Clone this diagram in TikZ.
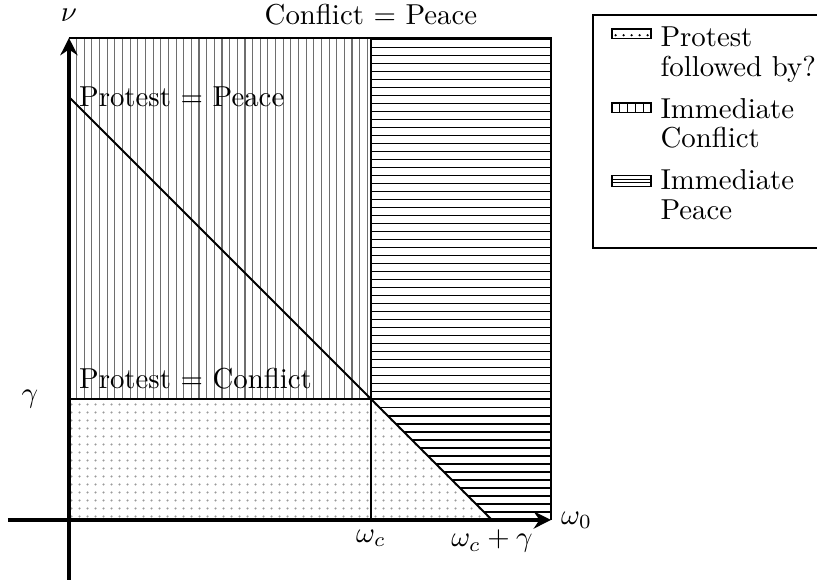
\documentclass[tikz,border=0pt]{standalone}
\usepackage{xcolor}
\usepackage{tikz}
\usetikzlibrary{patterns.meta,arrows.meta}
\definecolor{RegDots}{HTML}{9A9A9A}
\definecolor{RegVert}{HTML}{6E6E6E}
\definecolor{RegHorz}{HTML}{000000}
\definecolor{RegLine}{HTML}{000000}
\tikzset{
  dotfill/.style={pattern={Dots[distance=2.776pt,radius=0.45pt]},pattern color=#1},
  vline/.style={RegVert,line width=.4pt},
  hline/.style={RegHorz,line width=.4pt},
  border/.style={RegLine,line width=.65pt},
  axis/.style={RegLine,line width=1.2pt,-{Stealth[length=6pt,width=6pt,inset=2pt]}},
  legbox/.style={draw=RegLine,line width=.5pt},
  legtext/.style={anchor=base west,inner sep=0pt}
}

\begin{document}
\begin{tikzpicture}[x=1cm,y=1cm]
\path[use as bounding box] (-0.841,-0.720) rectangle (9.122,6.341);
\coordinate (O) at (0,0);
\coordinate (xstart) at (-0.744,0);
\coordinate (ystart) at (0,-0.80);
\coordinate (wc) at (3.683,0);
\coordinate (wcg) at (5.159,0);
\coordinate (xend) at (5.878,0);
\coordinate (g) at (0,1.476);
\coordinate (cg) at (3.683,1.476);
\coordinate (mg) at (5.878,1.476);
\coordinate (ppe) at (0,5.159);
\coordinate (top) at (0,5.878);
\coordinate (ctop) at (3.683,5.878);
\coordinate (corner) at (5.878,5.878);
\fill[dotfill=RegDots] (O) -- (wcg) -- (cg) -- (g) -- cycle;
\begin{scope}
\clip (g) -- (cg) -- (ctop) -- (top) -- cycle;
\foreach \k in {1,...,39}
  \draw[vline] (\k*0.0933,1.4) -- (\k*0.0933,5.9);
\end{scope}
\begin{scope}
\clip (cg) -- (ctop) -- (corner) -- (xend) -- (wcg) -- cycle;
\foreach \k in {1,...,60}
  \draw[hline] (3.6,\k*0.0976) -- (5.9,\k*0.0976);
\end{scope}
\draw[border] (top) -- (corner) -- (xend);
\draw[border] (ctop) -- (wc);
\draw[border,line width=.9pt] (g) -- (mg);
\draw[border] (ppe) -- (wcg);
\draw[axis] (xstart) -- (xend);
\draw[axis] (ystart) -- (top);
\node (nu) at (0,6.16) {$\nu$};
\node (cp) at (3.683,6.16) {Conflict $=$ Peace};
\node[anchor=west] (pp) at (ppe) {Protest $=$ Peace};
\node[anchor=south west] (pc) at (g) {Protest $=$ Conflict};
\node (gam) at (-0.476,1.476) {$\gamma$};
\node[below] (wcl) at (wc) {$\omega_c$};
\node[below] (wcgl) at (wcg) {$\omega_c+\gamma$};
\node[right] (w0) at (xend) {$\omega_0$};
\draw[legbox] (6.390,3.317) rectangle (9.25,6.159);
\draw[dotfill=black,line width=.4pt] (6.622,5.867) rectangle (7.098,5.987);
\draw[line width=.4pt] (6.622,4.964) rectangle (7.098,5.084);
\foreach \k in {1,...,4}
  \draw[line width=.4pt] (6.622+\k*0.0952,4.964) -- (6.622+\k*0.0952,5.084);
\draw[line width=.4pt] (6.622,4.070) rectangle (7.098,4.200);
\foreach \k in {1,2}
  \draw[line width=.4pt] (6.622,4.070+\k*0.0433) -- (7.098,4.070+\k*0.0433);
\node[legtext] (l1a) at (7.207,5.768) {Protest};
\node[legtext] (l1b) at (7.207,5.402) {followed by?};
\node[legtext] (l2a) at (7.207,4.890) {Immediate};
\node[legtext] (l2b) at (7.207,4.537) {Conflict};
\node[legtext] (l3a) at (7.207,4.024) {Immediate};
\node[legtext] (l3b) at (7.207,3.659) {Peace};
\end{tikzpicture}
\end{document}
